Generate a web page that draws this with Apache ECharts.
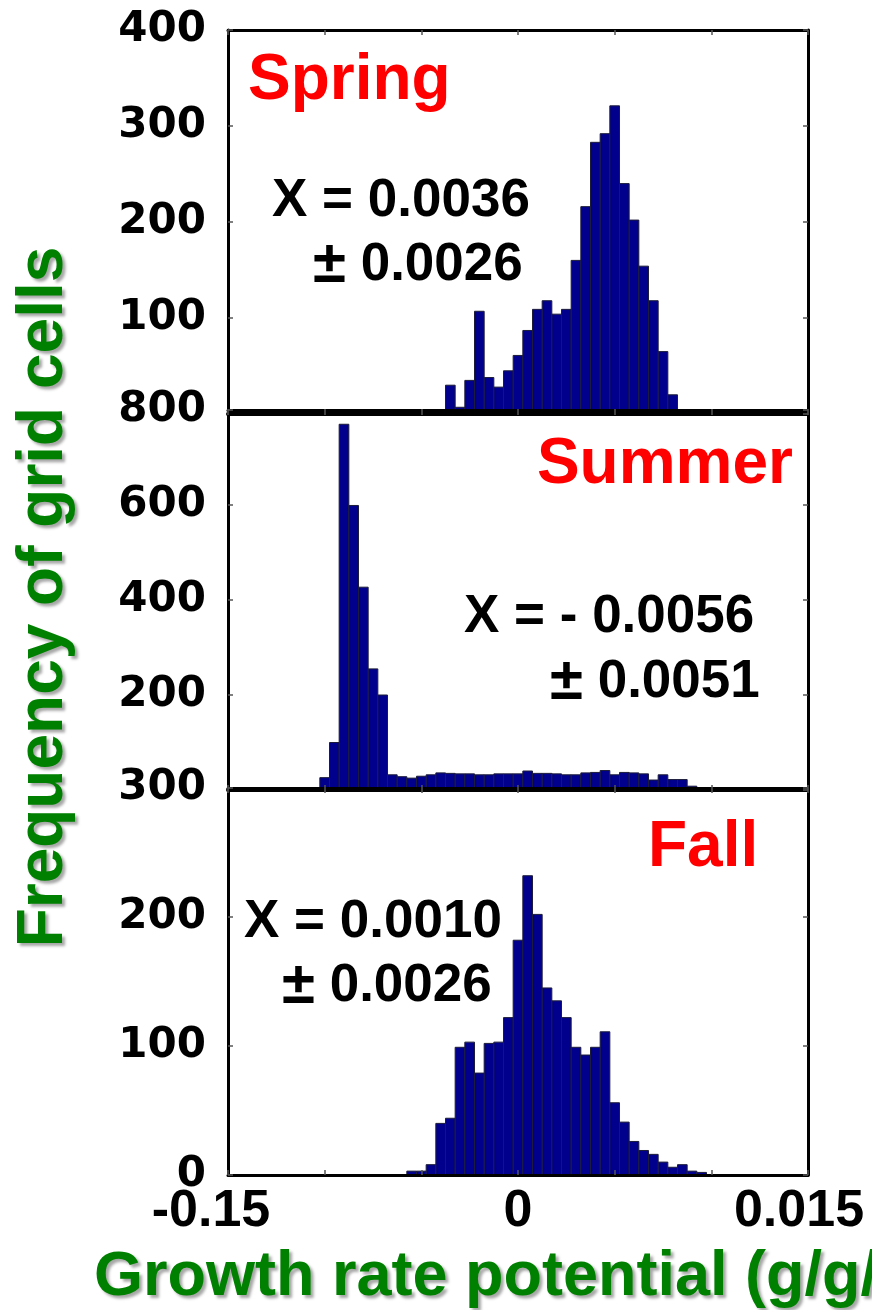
<!DOCTYPE html>
<html>
<head>
<meta charset="utf-8">
<script src="https://cdn.jsdelivr.net/npm/echarts@6/dist/echarts.min.js"></script>
<style>
html,body{margin:0;padding:0;background:#fff;}
#c{width:872px;height:1310px;}
</style>
</head>
<body>
<div id="c"></div>
<script>
// ---------- data ----------
const seasonNames = ['Spring', 'Summer', 'Fall'];
const statMeans = ['X = 0.0036', 'X = - 0.0056', 'X = 0.0010'];
const statSDs = ['0.0026', '0.0051', '0.0026'];

const binWidth = 0.0005;

const springBins = [-0.0035, -0.003, -0.0025, -0.002, -0.0015, -0.001, -0.0005, 0, 0.0005, 0.001, 0.0015, 0.002,
  0.0025, 0.003, 0.0035, 0.004, 0.0045, 0.005, 0.0055, 0.006, 0.0065, 0.007, 0.0075, 0.008];
const springCounts = [30, 7, 35, 107, 38, 28, 45, 61, 87, 109, 118, 104,
  109, 160, 216, 283, 292, 321, 240, 202, 154, 118, 65, 20];

const summerBins = [-0.01, -0.0095, -0.009, -0.0085, -0.008, -0.0075, -0.007, -0.0065, -0.006, -0.0055,
  -0.005, -0.0045, -0.004, -0.0035, -0.003, -0.0025, -0.002, -0.0015, -0.001, -0.0005,
  0, 0.0005, 0.001, 0.0015, 0.002, 0.0025, 0.003, 0.0035, 0.004, 0.0045,
  0.005, 0.0055, 0.006, 0.0065, 0.007, 0.0075, 0.008, 0.0085, 0.009];
const summerCounts = [26, 100, 770, 599, 427, 255, 200, 32, 28, 25,
  29, 32, 36, 35, 34, 34, 32, 32, 34, 34,
  34, 40, 35, 35, 34, 32, 32, 36, 37, 41,
  32, 37, 36, 34, 21, 32, 22, 22, 8];

const fallBins = [-0.0055, -0.005, -0.0045, -0.004, -0.0035, -0.003, -0.0025, -0.002, -0.0015, -0.001,
  -0.0005, 0, 0.0005, 0.001, 0.0015, 0.002, 0.0025, 0.003, 0.0035, 0.004,
  0.0045, 0.005, 0.0055, 0.006, 0.0065, 0.007, 0.0075, 0.008, 0.0085, 0.009, 0.0095];
const fallCounts = [3, 3, 8, 40, 44, 99, 103, 79, 102, 103,
  122, 182, 232, 202, 145, 135, 122, 99, 93, 99,
  111, 56, 41, 26, 19, 16, 10, 6, 8, 3, 2];

const xMin = -0.015, xMax = 0.015, xInterval = 0.005;
const xTickValues = [-0.015, 0, 0.015];
const xTickTexts = ['-0.15', '0', '0.015'];

const yMaxes = [400, 800, 300];
const yIntervals = [100, 200, 100];

const xTitle = 'Growth rate potential (g/g/d)';
const yTitle = 'Frequency of grid cells';

// ---------- layout / styles ----------
const FONT = '"Liberation Sans", Arial, Helvetica, sans-serif';
const gridLayout = [
  {left: 228, top: 30, width: 580, height: 384},
  {left: 228, top: 410, width: 580, height: 380},
  {left: 228, top: 788, width: 580, height: 387}
];
const binsList = [springBins, summerBins, fallBins];
const countsList = [springCounts, summerCounts, fallCounts];

const tickStyle = {show: true, inside: true, length: 5, lineStyle: {color: '#555', width: 1.5}};

function xLabelFormatter(v) {
  const i = xTickValues.findIndex(t => Math.abs(t - v) < 1e-9);
  if (i < 0) return '';
  const keys = ['a', 'b', 'c'];
  return '{' + keys[i] + '|' + xTickTexts[i] + '}';
}

const grids = [], xAxes = [], yAxes = [], series = [];
for (let p = 0; p < 3; p++) {
  grids.push(Object.assign({containLabel: false}, gridLayout[p]));
  xAxes.push({
    type: 'value', gridIndex: p, min: xMin, max: xMax, interval: xInterval, position: 'bottom', z: 5,
    axisLine: {show: true, onZero: false, lineStyle: {color: '#000', width: p < 2 ? 4 : 3}},
    axisTick: tickStyle, splitLine: {show: false},
    axisLabel: p === 2 ? {
      show: true, margin: 11, formatter: xLabelFormatter, showMinLabel: true, showMaxLabel: true,
      color: '#000', fontFamily: FONT, fontWeight: 'bold', fontSize: 52,
      rich: {
        a: {fontFamily: FONT, fontWeight: 'bold', fontSize: 52, color: '#000', padding: [0, 34, 0, 0]},
        b: {fontFamily: FONT, fontWeight: 'bold', fontSize: 52, color: '#000'},
        c: {fontFamily: FONT, fontWeight: 'bold', fontSize: 52, color: '#000', padding: [0, 18, 0, 0]}
      }
    } : {show: false}
  });
  xAxes.push({
    type: 'value', gridIndex: p, min: xMin, max: xMax, interval: xInterval, position: 'top', z: 5,
    axisLine: {show: true, onZero: false, lineStyle: {color: '#000', width: 3}},
    axisTick: tickStyle, splitLine: {show: false}, axisLabel: {show: false}
  });
  yAxes.push({
    type: 'value', gridIndex: p, min: 0, max: yMaxes[p], interval: yIntervals[p], position: 'left', z: 5,
    axisLine: {show: true, onZero: false, lineStyle: {color: '#000', width: 3}},
    axisTick: tickStyle, splitLine: {show: false},
    axisLabel: {
      show: true, margin: 22, showMinLabel: p === 2, showMaxLabel: true,
      color: '#000', fontFamily: '"DejaVu Sans", sans-serif', fontWeight: 'bold', fontSize: 42
    }
  });
  yAxes.push({
    type: 'value', gridIndex: p, min: 0, max: yMaxes[p], interval: yIntervals[p], position: 'right', z: 5,
    axisLine: {show: true, onZero: false, lineStyle: {color: '#000', width: 3}},
    axisTick: tickStyle, splitLine: {show: false}, axisLabel: {show: false}
  });

  const data = binsList[p].map((b, i) => [b, countsList[p][i]]);
  series.push({
    type: 'custom', name: seasonNames[p], xAxisIndex: 2 * p, yAxisIndex: 2 * p, z: 2,
    data: data, clip: true,
    renderItem: function (params, api) {
      const x = api.value(0), y = api.value(1);
      const p0 = api.coord([x - binWidth / 2, 0]);
      const p1 = api.coord([x + binWidth / 2, y]);
      return {
        type: 'rect',
        shape: {x: p0[0], y: p1[1], width: p1[0] - p0[0], height: p0[1] - p1[1]},
        style: {fill: '#00008c', stroke: '#1c1c3a', lineWidth: 1}
      };
    }
  });
}

function txt(text, x, y, size, color, align, extra) {
  return {
    type: 'text', x: x, y: y, z: 20,
    style: Object.assign({
      text: text, fill: color, fontFamily: FONT, fontWeight: 'bold', fontSize: size,
      align: align || 'left', verticalAlign: 'middle'
    }, extra || {})
  };
}
const pmRich = {
  rich: {
    pm: {fontFamily: FONT, fontWeight: 'bold', fontSize: 60, fill: '#000', verticalAlign: 'bottom'},
    n: {fontFamily: FONT, fontWeight: 'bold', fontSize: 53, fill: '#000'}
  }
};
function sd(text, x, y) {
  return txt('{pm|±} {n|' + text + '}', x, y, 53, '#000', 'left', pmRich);
}

const shadow = {textShadowColor: 'rgba(0,0,0,0.35)', textShadowBlur: 3, textShadowOffsetX: 3, textShadowOffsetY: 3};

const graphics = [
  txt(seasonNames[0], 248, 81, 64, '#ff0000'),
  txt(statMeans[0], 272, 201, 53, '#000'),
  sd(statSDs[0], 313, 265),

  txt(seasonNames[1], 793, 465, 64, '#ff0000', 'right'),
  txt(statMeans[1], 464, 617, 53, '#000'),
  sd(statSDs[1], 550, 682),

  txt(seasonNames[2], 648, 848, 64, '#ff0000'),
  txt(statMeans[2], 244, 922, 53, '#000'),
  sd(statSDs[2], 282, 986),

  txt(xTitle, 94, 1278, 63, '#008000', 'left', shadow),
  Object.assign(txt(yTitle, 44, 597, 64, '#008000', 'center', shadow), {rotation: Math.PI / 2})
];

const chart = echarts.init(document.getElementById('c'), null, {renderer: 'canvas'});
chart.setOption({
  animation: false,
  backgroundColor: '#fff',
  grid: grids,
  xAxis: xAxes,
  yAxis: yAxes,
  series: series,
  graphic: graphics
});
</script>
</body>
</html>
